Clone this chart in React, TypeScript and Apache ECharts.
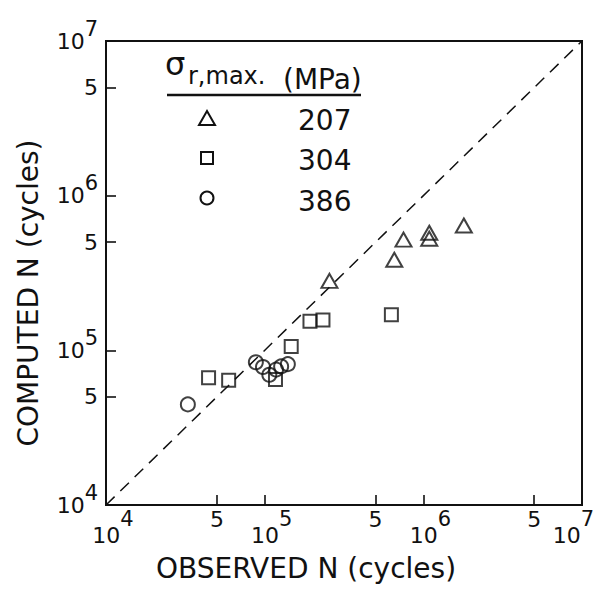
import React, { useEffect, useRef } from "react";
import * as echarts from "echarts";

// ---- data (observed N, computed N) in cycles ----
const stressLevels = ["207", "304", "386"];
const observed207 = [2.56e5, 6.56e5, 7.5e5, 1.09e6, 1.09e6, 1.8e6];
const computed207 = [2.81e5, 3.85e5, 5.2e5, 5.76e5, 5.27e5, 6.41e5];
const observed304 = [4.43e4, 5.93e4, 1.17e5, 1.47e5, 1.93e5, 2.33e5, 6.29e5];
const computed304 = [6.64e4, 6.41e4, 6.47e4, 1.06e5, 1.54e5, 1.57e5, 1.7e5];
const observed386 = [3.28e4, 8.8e4, 9.76e4, 1.07e5, 1.18e5, 1.27e5, 1.4e5];
const computed386 = [4.47e4, 8.37e4, 7.8e4, 6.95e4, 7.51e4, 7.87e4, 8.14e4];
const equalityLine = [
  [1e4, 1e4],
  [1e7, 1e7],
];
const axisMin = 1e4;
const axisMax = 1e7;
const tickValues = [1e4, 5e4, 1e5, 5e5, 1e6, 5e6, 1e7];

const FONT = "DejaVu Sans";
const INK = "#111";

const pairs = (xs: number[], ys: number[]) => xs.map((x, i) => [x, ys[i]]);
const logTicks = tickValues.map((v) => Math.log10(v));
const maxExp = Math.round(Math.log10(axisMax));

const fmtY = (v: number) => {
  const n = Math.round(v);
  if (Math.abs(v - n) < 1e-6) return `{b|10}{e|${n}}`;
  const m = Math.round(Math.pow(10, v - Math.floor(v)));
  return `{f|${m}}`;
};
const fmtX = (v: number) => {
  const n = Math.round(v);
  if (Math.abs(v - n) < 1e-6) {
    if (n === maxExp) return `{b2|10}{e2|${n}}`;
    return `{b|10}{e|${n}}`;
  }
  const m = Math.round(Math.pow(10, v - Math.floor(v)));
  return `{f|${m}}`;
};

export default function App() {
  const ref = useRef<HTMLDivElement>(null);
  useEffect(() => {
    if (!ref.current) return;
    const chart = echarts.init(ref.current, null, { renderer: "svg" });
    const grid = { left: 106, top: 41, width: 476, height: 464 };
    const markerStyle = {
      color: "rgba(0,0,0,0)",
      borderColor: INK,
      borderWidth: 2,
    };
    const option: any = {
      animation: false,
      backgroundColor: "#fff",
      grid: {
        ...grid,
        show: true,
        borderColor: INK,
        borderWidth: 2,
        backgroundColor: "rgba(0,0,0,0)",
        containLabel: false,
        outerBoundsMode: "none",
      },
      xAxis: [
        {
          type: "log",
          logBase: 10,
          min: axisMin,
          max: axisMax,
          show: false,
          gridIndex: 0,
        },
        {
          type: "value",
          min: 4,
          max: 7,
          interval: 1,
          gridIndex: 0,
          position: "bottom",
          axisLine: { show: false },
          splitLine: { show: false },
          axisTick: {
            show: true,
            inside: true,
            length: 10,
            customValues: logTicks,
            lineStyle: { color: INK, width: 1.6 },
          },
          axisLabel: {
            show: true,
            customValues: logTicks,
            showMinLabel: true,
            showMaxLabel: true,
            margin: 3,
            color: INK,
            fontFamily: FONT,
            formatter: fmtX,
            rich: {
              b: { fontSize: 22, fontFamily: FONT, color: INK, padding: [16, 0, 0, 14], verticalAlign: "top", lineHeight: 40 },
              e: { fontSize: 21, fontFamily: FONT, color: INK, verticalAlign: "top", lineHeight: 40 },
              b2: { fontSize: 22, fontFamily: FONT, color: INK, padding: [16, 0, 0, 0], verticalAlign: "top", lineHeight: 40 },
              e2: { fontSize: 21, fontFamily: FONT, color: INK, padding: [0, 17, 0, 0], verticalAlign: "top", lineHeight: 40 },
              f: { fontSize: 22, fontFamily: FONT, color: INK, verticalAlign: "top", lineHeight: 40 },
            },
          },
        },
      ],
      yAxis: [
        {
          type: "log",
          logBase: 10,
          min: axisMin,
          max: axisMax,
          show: false,
          gridIndex: 0,
        },
        {
          type: "value",
          min: 4,
          max: 7,
          interval: 1,
          gridIndex: 0,
          position: "left",
          axisLine: { show: false },
          splitLine: { show: false },
          axisTick: {
            show: true,
            inside: true,
            length: 10,
            customValues: logTicks,
            lineStyle: { color: INK, width: 1.6 },
          },
          axisLabel: {
            show: true,
            customValues: logTicks,
            showMinLabel: true,
            showMaxLabel: true,
            margin: 8,
            color: INK,
            fontFamily: FONT,
            formatter: fmtY,
            rich: {
              b: { fontSize: 22, fontFamily: FONT, color: INK, padding: [12, 0, 0, 0], verticalAlign: "top", lineHeight: 46 },
              e: { fontSize: 21, fontFamily: FONT, color: INK, verticalAlign: "top", lineHeight: 46 },
              f: { fontSize: 22, fontFamily: FONT, color: INK, verticalAlign: "middle", lineHeight: 46 },
            },
          },
        },
      ],
      series: [
        {
          name: "1:1",
          type: "line",
          xAxisIndex: 0,
          yAxisIndex: 0,
          data: equalityLine,
          symbol: "none",
          silent: true,
          lineStyle: { color: INK, width: 1.5, type: [12, 8] },
        },
        {
          name: stressLevels[0],
          type: "scatter",
          xAxisIndex: 0,
          yAxisIndex: 0,
          symbol: "triangle",
          symbolSize: [16, 14],
          itemStyle: markerStyle,
          data: pairs(observed207, computed207),
        },
        {
          name: stressLevels[1],
          type: "scatter",
          xAxisIndex: 0,
          yAxisIndex: 0,
          symbol: "rect",
          symbolSize: 13,
          itemStyle: markerStyle,
          data: pairs(observed304, computed304),
        },
        {
          name: stressLevels[2],
          type: "scatter",
          xAxisIndex: 0,
          yAxisIndex: 0,
          symbol: "circle",
          symbolSize: 14,
          itemStyle: markerStyle,
          data: pairs(observed386, computed386),
        },
      ],
      graphic: {
        elements: [
          // axis titles
          {
            type: "text",
            x: 306,
            y: 568,
            style: { text: "OBSERVED N (cycles)", fontSize: 28, fontFamily: FONT, fill: INK, align: "center", verticalAlign: "middle" },
          },
          {
            type: "text",
            x: 28,
            y: 293,
            rotation: Math.PI / 2,
            style: { text: "COMPUTED N (cycles)", fontSize: 28, fontFamily: FONT, fill: INK, align: "center", verticalAlign: "middle" },
          },
          // legend header
          {
            type: "text",
            x: 165,
            y: 64,
            style: { text: "σ", fontSize: 32, fontFamily: FONT, fill: INK, align: "left", verticalAlign: "middle" },
          },
          {
            type: "text",
            x: 188,
            y: 76,
            style: { text: "r,max.", fontSize: 24, fontFamily: FONT, fill: INK, align: "left", verticalAlign: "middle" },
          },
          {
            type: "text",
            x: 283,
            y: 79,
            style: { text: "(MPa)", fontSize: 28, fontFamily: FONT, fill: INK, align: "left", verticalAlign: "middle" },
          },
          {
            type: "line",
            shape: { x1: 167, y1: 95, x2: 361, y2: 95 },
            style: { stroke: INK, lineWidth: 2.5 },
          },
          // legend rows
          {
            type: "polygon",
            shape: { points: [[199, 125], [215, 125], [207, 111]] },
            style: { fill: "none", stroke: INK, lineWidth: 2 },
          },
          {
            type: "rect",
            shape: { x: 201, y: 152, width: 12, height: 12 },
            style: { fill: "none", stroke: INK, lineWidth: 2 },
          },
          {
            type: "circle",
            shape: { cx: 207, cy: 198, r: 6.5 },
            style: { fill: "none", stroke: INK, lineWidth: 2 },
          },
          {
            type: "text",
            x: 298,
            y: 120,
            style: { text: stressLevels[0], fontSize: 28, fontFamily: FONT, fill: INK, align: "left", verticalAlign: "middle" },
          },
          {
            type: "text",
            x: 298,
            y: 160,
            style: { text: stressLevels[1], fontSize: 28, fontFamily: FONT, fill: INK, align: "left", verticalAlign: "middle" },
          },
          {
            type: "text",
            x: 298,
            y: 201,
            style: { text: stressLevels[2], fontSize: 28, fontFamily: FONT, fill: INK, align: "left", verticalAlign: "middle" },
          },
        ],
      },
    };
    chart.setOption(option);
    return () => chart.dispose();
  }, []);
  return (
    <div
      ref={ref}
      style={{ position: "absolute", left: 0, top: 0, width: 596, height: 597, background: "#fff" }}
    />
  );
}
